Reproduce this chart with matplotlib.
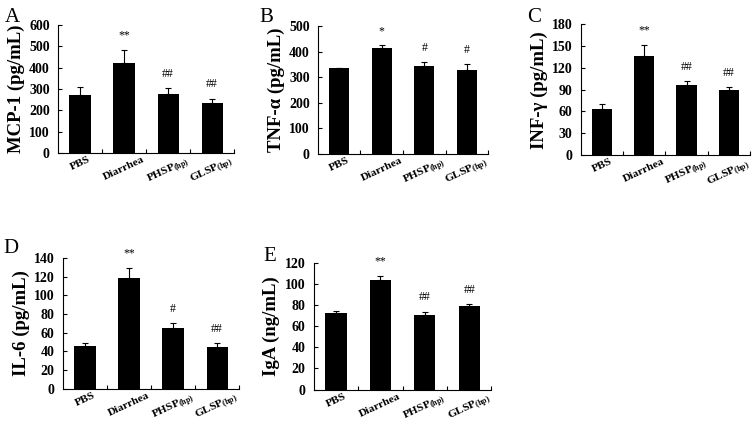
import matplotlib
matplotlib.use("Agg")
import matplotlib.pyplot as plt
import numpy as np

plt.rcParams['font.family'] = ['Liberation Serif', 'DejaVu Serif']
plt.rcParams['mathtext.fontset'] = 'custom'
plt.rcParams['mathtext.rm'] = 'Liberation Serif:bold'
plt.rcParams['mathtext.it'] = 'Liberation Serif:bold'
plt.rcParams['mathtext.bf'] = 'Liberation Serif:bold'

categories = ["PBS", "Diarrhea", r"PHSP$_{\rm (hp)}$", r"GLSP$_{\rm (hp)}$"]

mcp1 = [270, 420, 278, 233]
mcp1_err = [40, 65, 25, 22]
mcp1_sig = ["", "**", "##", "##"]

tnf = [335, 415, 343, 330]
tnf_err = [2, 10, 15, 20]
tnf_sig = ["", "*", "#", "#"]

inf = [64, 136, 96, 89]
inf_err = [6, 16, 6, 4]
inf_sig = ["", "**", "##", "##"]

il6 = [46, 119, 65, 45]
il6_err = [3, 11, 5, 4]
il6_sig = ["", "**", "#", "##"]

iga = [73, 104, 71, 79]
iga_err = [2, 4, 3, 2]
iga_sig = ["", "**", "##", "##"]

panels = [
    ("A", "MCP-1 (pg/mL)", mcp1, mcp1_err, mcp1_sig, 600, 100, [0.0767, 0.640, 0.233, 0.301], (0.007, 0.982)),
    ("B", "TNF-α (pg/mL)", tnf, tnf_err, tnf_sig, 500, 100, [0.4206, 0.6376, 0.225, 0.301], (0.343, 0.982)),
    ("C", "INF-γ (pg/mL)", inf, inf_err, inf_sig, 180, 30, [0.7685, 0.635, 0.2235, 0.308], (0.697, 0.982)),
    ("D", "IL-6 (pg/mL)", il6, il6_err, il6_sig, 140, 20, [0.0833, 0.0855, 0.233, 0.307], (0.005, 0.437)),
    ("E", "IgA (ng/mL)", iga, iga_err, iga_sig, 120, 20, [0.415, 0.0835, 0.235, 0.297], (0.348, 0.418)),
]

fig = plt.figure(figsize=(7.56, 4.25), dpi=100)

for letter, ylabel, vals, errs, sigs, ymax, ystep, pos, lpos in panels:
    ax = fig.add_axes(pos)
    x = np.arange(len(categories))
    ax.bar(x, vals, width=0.48, color='black', zorder=2)
    ax.errorbar(x, vals, yerr=[np.zeros(len(vals)), errs], fmt='none',
                ecolor='black', elinewidth=0.8, capsize=2, capthick=0.8, zorder=1)
    for xi, v, e, s in zip(x, vals, errs, sigs):
        if s:
            ax.annotate(s, (xi, v + e), xytext=(0, 6), textcoords='offset points',
                        ha='center', va='bottom', fontsize=8.5, color='black')
    ax.set_xlim(-0.5, 3.5)
    ax.set_ylim(0, ymax)
    ax.set_yticks(np.arange(0, ymax + ystep / 2, ystep))
    ax.set_xticks(x)
    ax.set_xticklabels(categories, rotation=25, ha='center', va='top',
                       fontsize=8.2, fontweight='bold')
    ax.set_xticks([0.5, 1.5, 2.5, 3.5], minor=True)
    ax.tick_params(axis='x', which='major', length=0, pad=1.5)
    ax.tick_params(axis='x', which='minor', direction='in', length=3, width=0.8)
    ax.tick_params(axis='y', direction='in', length=3, width=0.8, labelsize=10, pad=6)
    for lab in ax.get_yticklabels():
        lab.set_fontweight('bold')
    ax.spines['top'].set_visible(False)
    ax.spines['right'].set_visible(False)
    ax.spines['left'].set_linewidth(0.8)
    ax.spines['bottom'].set_linewidth(0.8)
    ax.set_ylabel(ylabel, fontsize=13.5, fontweight='bold', labelpad=3)
    fig.text(lpos[0], lpos[1], letter, fontsize=15, va='top', ha='left')

fig.savefig("out.png", dpi=100)
